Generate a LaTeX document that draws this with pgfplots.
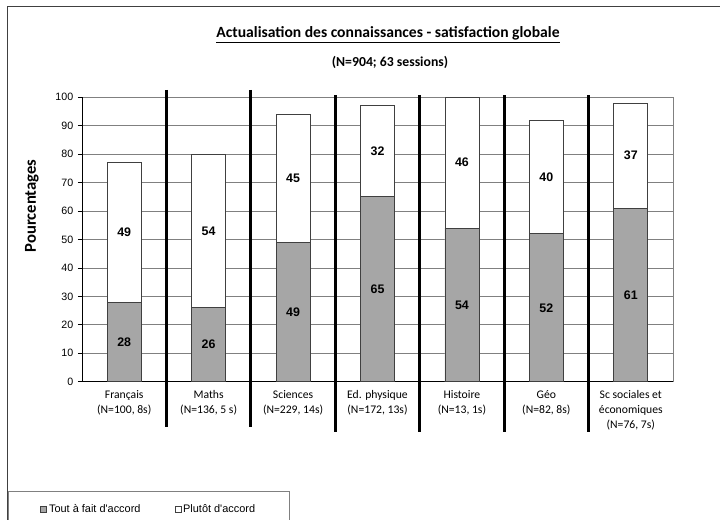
\documentclass[border=0pt]{standalone}
\usepackage{fontspec}
\setmainfont{Liberation Sans}
\newfontfamily\calibri{Carlito}
\usepackage{pgfplots}
\usepackage{pgfplotstable}
\pgfplotsset{compat=1.18}

\definecolor{barGray}{RGB}{166,166,166}
\definecolor{edgeGray}{RGB}{64,64,64}
\definecolor{gridGray}{RGB}{128,128,128}

% Share of participants per subject: "tout" = Tout à fait d'accord, "plutot" = Plutôt d'accord
\pgfplotstableread{
x tout plutot
0 28 49
1 26 54
2 49 45
3 65 32
4 54 46
5 52 40
6 61 37
}\satisfaction

\begin{document}
\begin{tikzpicture}[x=0.75pt,y=0.75pt]
\useasboundingbox (0,0) rectangle (720,519);
% outer frame of the chart area
\draw[black!75, line width=0.75pt] (7,-20) rectangle (740,512);
% titles
\node[font=\calibri\bfseries\fontsize{11.7}{14}\selectfont] at (388,484)
  {\underline{Actualisation des connaissances - satisfaction globale}};
\node[font=\calibri\bfseries\fontsize{10.3}{12}\selectfont] at (390,457)
  {(N=904; 63 sessions)};

\begin{axis}[
  at={(61.5pt,102.98pt)}, anchor=south west,
  scale only axis, width=443.25pt, height=213.3pt,
  xmin=-0.5, xmax=6.5, ymin=0, ymax=100,
  axis lines*=left,
  axis line style={black, line width=0.75pt},
  clip=false,
  ytick={0,10,...,100},
  ymajorgrids,
  major grid style={gridGray, line width=0.6pt},
  xtick={0,...,6},
  xticklabels={{Français\\(N=100, 8s)},{Maths\\(N=136, 5 s)},{Sciences\\(N=229, 14s)},
    {Ed. physique\\(N=172, 13s)},{Histoire\\(N=13, 1s)},{Géo\\(N=82, 8s)},
    {Sc sociales et\\économiques\\(N=76, 7s)}},
  x tick style={draw=none},
  y tick style={black, line width=0.6pt},
  tick align=outside, major tick length=3pt,
  xticklabel style={font=\calibri\fontsize{8.75}{11.3}\selectfont, align=center, anchor=north},
  yticklabel style={font=\fontsize{8}{9.6}\selectfont},
  /pgf/number format/assume math mode=true,
  ylabel={Pourcentages},
  ylabel style={font=\calibri\bfseries\fontsize{12.5}{14}\selectfont,
    at={(axis description cs:-0.085,0.618)}, anchor=center},
  legend style={at={(axis description cs:-0.1252,-0.3843)}, anchor=north west,
    draw=gridGray, line width=0.6pt, legend columns=2,
    font=\fontsize{8.2}{10}\selectfont, inner xsep=24pt, inner ysep=8pt,
    nodes={inner xsep=1.5pt},
    /tikz/every even column/.append style={column sep=24pt}},
  legend image code/.code={\draw[#1, line width=0.5pt] (0pt,-2.25pt) rectangle (4.5pt,2.25pt);},
  legend entries={Tout à fait d\textquotesingle accord, Plutôt d\textquotesingle accord\hspace{-4.5pt}},
]
\addlegendimage{fill=barGray, draw=edgeGray}
\addlegendimage{fill=white, draw=edgeGray}

% white part: full height of both answers, gray part drawn over it
\addplot[ybar, bar width=25.5pt, bar shift=0pt, fill=white, draw=edgeGray, line width=0.6pt, forget plot]
  table[x=x, y expr=\thisrow{tout}+\thisrow{plutot}] {\satisfaction};
\addplot[ybar, bar width=25.5pt, bar shift=0pt, fill=barGray, draw=edgeGray, line width=0.6pt, forget plot]
  table[x=x, y=tout] {\satisfaction};

% value labels centred in each segment
\addplot[draw=none, mark=none, forget plot, nodes near coords, point meta=explicit,
  nodes near coords style={font=\bfseries\fontsize{9.3}{10}\selectfont, anchor=center, text=black}]
  table[x=x, y expr=\thisrow{tout}/2, meta=tout] {\satisfaction};
\addplot[draw=none, mark=none, forget plot, nodes near coords, point meta=explicit,
  nodes near coords style={font=\bfseries\fontsize{9.3}{10}\selectfont, anchor=center, text=black}]
  table[x=x, y expr=\thisrow{tout}+\thisrow{plutot}/2, meta=plutot] {\satisfaction};

% right edge of the plot area
\draw[gridGray, line width=0.6pt] (rel axis cs:1,0) -- (rel axis cs:1,1);

% thick separators between subjects
\draw[black, line width=2.25pt] (axis cs:0.5,102.6) -- (axis cs:0.5,-15.8);
\draw[black, line width=2.25pt] (axis cs:1.5,102.6) -- (axis cs:1.5,-15.8);
\draw[black, line width=2.25pt] (axis cs:2.5,100.8) -- (axis cs:2.5,-17.7);
\draw[black, line width=2.25pt] (axis cs:3.5,100.8) -- (axis cs:3.5,-17.7);
\draw[black, line width=2.25pt] (axis cs:4.5,100.8) -- (axis cs:4.5,-17.7);
\draw[black, line width=2.25pt] (axis cs:5.5,100.8) -- (axis cs:5.5,-17.7);
\end{axis}
\end{tikzpicture}
\end{document}
